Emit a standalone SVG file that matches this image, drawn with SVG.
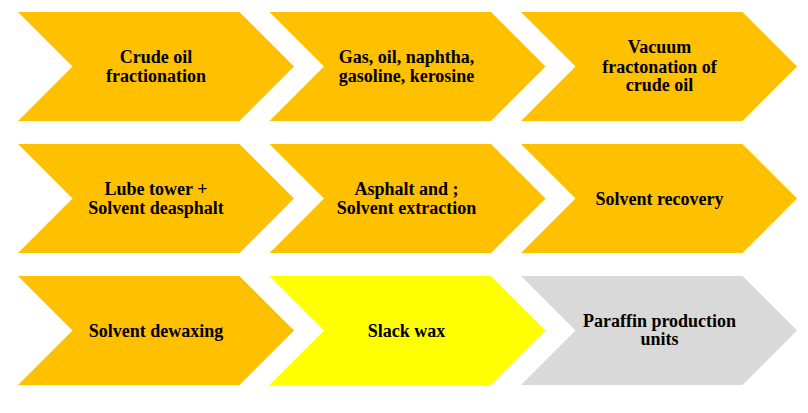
<svg xmlns="http://www.w3.org/2000/svg" width="808" height="413" viewBox="0 0 808 413">
<defs>
<style>
.o{fill:#FFC000}
.y{fill:#FFFF00}
.g{fill:#D9D9D9}
text{font-family:"Liberation Serif","Times New Roman",serif;font-weight:bold;font-size:18px;fill:#000;text-anchor:middle}
</style>
<path id="chev" d="M0,0 H221.5 L276,54.5 L221.5,109 H0 L54.5,54.5 Z"/>
</defs>
<rect width="808" height="413" fill="#fff"/>
<g id="connectors"></g>
<g id="n1"><use href="#chev" x="18" y="12" class="o"/><text x="156" y="62.7">Crude oil</text><text x="156" y="81.7">fractionation</text></g>
<g id="n2"><use href="#chev" x="269.5" y="12" class="o"/><text x="406.5" y="62.7">Gas, oil, naphtha,</text><text x="406.5" y="81.7">gasoline, kerosine</text></g>
<g id="n3"><use href="#chev" x="521" y="12" class="o"/><text x="659.5" y="53.3">Vacuum</text><text x="659.5" y="72.5">fractonation of</text><text x="659.5" y="90.7">crude oil</text></g>
<g id="n4"><use href="#chev" x="18" y="144" class="o"/><text x="156" y="194.7">Lube tower +</text><text x="156" y="213.7">Solvent deasphalt</text></g>
<g id="n5"><use href="#chev" x="269.5" y="144" class="o"/><text x="406.5" y="194.7">Asphalt and ;</text><text x="406.5" y="213.7">Solvent extraction</text></g>
<g id="n6"><use href="#chev" x="521" y="144" class="o"/><text x="659.5" y="204.5">Solvent recovery</text></g>
<g id="n7"><use href="#chev" x="18" y="276" class="o"/><text x="156" y="336.5">Solvent dewaxing</text></g>
<g id="n8"><use href="#chev" x="269.5" y="276" class="y"/><text x="406.5" y="336.5">Slack wax</text></g>
<g id="n9"><use href="#chev" x="521" y="276" class="g"/><text x="659.5" y="326.7">Paraffin production</text><text x="659.5" y="345.2">units</text></g>
</svg>
